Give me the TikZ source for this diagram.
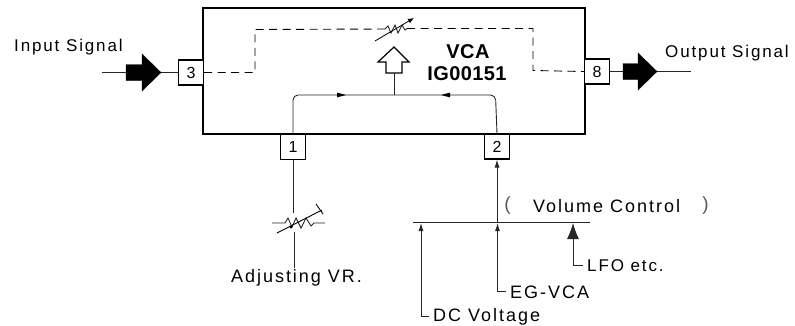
\documentclass[tikz,border=0pt]{standalone}
\usepackage{fontspec}
\setmainfont[LetterSpace=11]{Liberation Sans}
\newfontfamily\boldlab[LetterSpace=2]{Liberation Sans}
\usetikzlibrary{arrows.meta}
\tikzset{
  x=1pt,y=-1pt,
  chipbox/.style={draw=black,line width=1.7pt,rectangle,minimum width=382pt,minimum height=126pt,inner sep=0pt},
  pinbox/.style={draw=black,line width=1.1pt,fill=white,rectangle,minimum width=25pt,minimum height=25pt,inner sep=0pt,font=\fontsize{16}{18}\selectfont},
  wire/.style={draw=black!85,line width=0.9pt},
  sigwire/.style={wire,-{Latex[length=8pt,width=5pt]}},
  dashwire/.style={draw=black,line width=0.9pt,dash pattern=on 8pt off 5.5pt},
  lab/.style={font=\fontsize{18}{20}\selectfont,inner sep=0pt,anchor=west,text=black},
  toplab/.style={lab,font=\fontsize{17}{20}\selectfont},
  paren/.style={font=\fontsize{19}{20}\selectfont,inner sep=0pt,text=black!65},
  vcalab/.style={font=\boldlab\bfseries\fontsize{20}{22}\selectfont,inner sep=0pt,text=black},
  blockarrow/.style={fill=black,draw=black,line width=0.4pt},
  hollowarrow/.style={draw=black,line width=1.2pt,fill=white,line join=miter},
}
\begin{document}
\begin{tikzpicture}
\useasboundingbox (0,0) rectangle (795,325);
\node[chipbox] (vca) at (394,71) {};
\node[pinbox] (p3) at (191,72.5) {3};
\node[pinbox] (p8) at (597,71.5) {8};
\node[pinbox] (p1) at (293,147) {1};
\node[pinbox] (p2) at (497,146.5) {2};

\coordinate (inL) at (102,72.5);
\coordinate (inA) at (126,72.5);
\coordinate (inT) at (161,72.5);
\coordinate (outA) at (623,71.5);
\coordinate (outT) at (657,71.5);
\coordinate (outR) at (691,71.5);
\draw[wire] (inL) -- (inA);
\draw[wire] (inT) -- (p3.west);
\draw[wire] (p8.east) -- (outA);
\draw[wire] (outT) -- (outR);
\draw[blockarrow] (inA) ++(0,-8) -- ++(16,0) -- ++(0,-10.5) -- (inT) -- ++(-19,18.5) -- ++(0,-10.5) -- ++(-16,0) -- cycle;
\draw[blockarrow] (outA) ++(0,-8) -- ++(15,0) -- ++(0,-10.5) -- (outT) -- ++(-19,18.5) -- ++(0,-10.5) -- ++(-15,0) -- cycle;

% dashed signal path with the voltage controlled resistor
\coordinate (rl) at (385,29);
\coordinate (rr) at (407,28.5);
\draw[dashwire] (p3.east) -- (255,72.5) -- (255,29.5) -- (rl);
\draw[dashwire] (rr) -- (533,28.5) -- (533,70.5) -- (p8.west);
\draw[wire] (rl) -- (388,26) -- (391,33) -- (395,25) -- (398,33) -- (402,25) -- (405,30) -- (rr);
\draw[draw=black,line width=0.8pt,-{Latex[length=6pt,width=5pt]}] (375,41) -- (414,18);

% control lines inside the chip
\coordinate (join) at (394,95);
\draw[wire,rounded corners=5pt] (p1.north) -- (293,95) -- (join);
\draw[wire,rounded corners=5pt] (p2.north) -- (495.5,95) -- (join);
\draw[wire] (join) -- (394,73);
\fill[black] (346,95) -- (337,92.6) -- (337,97.4) -- cycle;
\fill[black] (441,95) -- (450,92.6) -- (450,97.4) -- cycle;
\draw[hollowarrow] (386,73) -- (386,62) -- (378,62) -- (394,47) -- (409,62) -- (402,62) -- (402,73) -- cycle;
\node[vcalab] (vlab) at (468,52) {VCA};
\node[vcalab] (ilab) at (467,74) {IG00151};

% adjusting VR
\coordinate (vrT) at (293,213);
\coordinate (vrB) at (294,232);
\node[lab,anchor=center] (adj) at (296.5,278) {Adjusting VR.};
\draw[wire] (p1.south) -- (vrT);
\draw[wire] (vrB) -- (294,268);
\draw[wire] (272,223) -- (285,223) -- (288,218) -- (292,227) -- (296,218) -- (301,228) -- (306,218) -- (311,226) -- (314,223) -- (325,223);
\draw[black,line width=0.9pt] (277,233) -- (322,210);
\draw[black,line width=0.9pt] (316,204) -- (323,214);
\fill[black] (291,227) circle (1.6);

% volume control
\coordinate (busL) at (413,222);
\coordinate (busR) at (590,222);
\coordinate (bus2) at (497,222);
\draw[wire] (busL) -- (busR);
\draw[sigwire] (bus2) -- (p2.south);
\node[paren] (ovol) at (507.5,206) {(};
\node[lab] (vol) at (533,206) {Volume Control};
\node[paren] (cvol) at (705.5,206) {)};
\node[lab] (dc) at (433,317) {DC Voltage};
\node[lab] (eg) at (510,292) {EG-VCA};
\node[toplab] (lfo) at (587,266) {LFO etc.};
\coordinate (dcT) at (421,223);
\coordinate (egT) at (497.5,223);
\coordinate (lfoT) at (573,223);
\draw[sigwire] (dc.west) ++(-4,-1) -- (421,316) -- (dcT);
\draw[sigwire] (eg.west) ++(-4,-1) -- (497.5,291) -- (egT);
\draw[wire,-{Latex[length=16pt,width=12pt]}] (lfo.west) ++(-4,-1) -- (573,265) -- (lfoT);
\node[toplab] (inp) at (14,47) {Input Signal};
\node[toplab] (outp) at (665,53) {Output Signal};
\end{tikzpicture}
\end{document}
